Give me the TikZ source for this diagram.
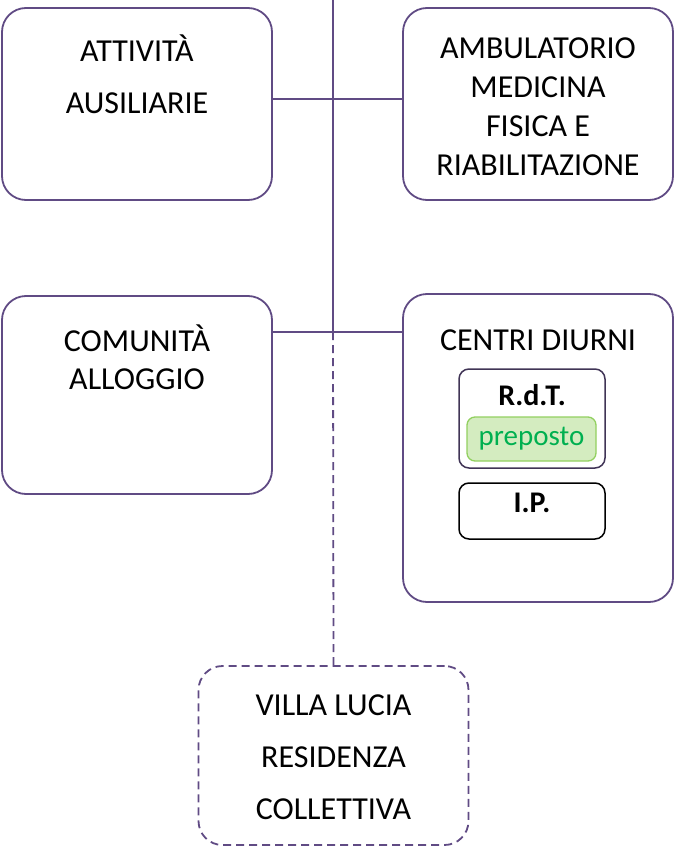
\documentclass[tikz,border=0pt]{standalone}
\usepackage{fontspec}
\setmainfont{Carlito}
\usepackage{tikz}
\usetikzlibrary{calc}
\usetikzlibrary{positioning}

\definecolor{lineviolet}{RGB}{96,75,132}
\definecolor{innerframe}{RGB}{64,52,86}
\definecolor{prepfill}{RGB}{212,236,192}
\definecolor{prepdraw}{RGB}{146,208,96}
\definecolor{preptext}{RGB}{0,176,80}

\tikzset{
  unitbox/.style={draw=lineviolet,line width=1.8pt,rounded corners=24pt,minimum width=270pt,inner sep=0pt},
  bigtext/.style={font=\fontsize{32}{#1}\selectfont,align=center,inner sep=0pt},
  smallbox/.style={draw=#1,line width=1.5pt,rounded corners=10pt,minimum width=146pt,inner sep=0pt},
  conn/.style={draw=lineviolet,line width=1.8pt}
}

\begin{document}
\begin{tikzpicture}[x=1pt,y=-1pt]
    \useasboundingbox (0,0) rectangle (678,850);
    % top row
    \node[unitbox,minimum height=192pt] (attiv) at (137,104) {};
    \node[bigtext=52] (attivT) at (137,74) {ATTIVITÀ\\AUSILIARIE};
    \node[unitbox,minimum height=192pt] (ambul) at (538,104) {};
    \node[bigtext=39] (ambulT) at (538,106.5) {AMBULATORIO\\MEDICINA\\FISICA E\\RIABILITAZIONE};
    % second row
    \node[unitbox,minimum height=198pt] (comun) at (137,395) {};
    \node[bigtext=38] (comunT) at (137,357) {COMUNITÀ\\ALLOGGIO};
    \node[unitbox,minimum height=308pt] (centri) at (538,448) {};
    \node[bigtext=38] (centriT) at (538,340) {CENTRI DIURNI};
    \node[smallbox=innerframe,minimum height=99pt] (rdt) at (532,418.5) {};
    \node[font=\fontsize{30}{34}\selectfont\bfseries,inner sep=0pt] (rdtT) at (532,395) {R.d.T.};
    \node[draw=prepdraw,fill=prepfill,line width=1.3pt,rounded corners=8pt,minimum width=129pt,minimum height=44pt,
          font=\fontsize{29}{33}\selectfont,text=preptext,inner sep=0pt] (prep) at (531.5,439) {preposto};
    \node[smallbox=black,minimum height=56pt] (ip) at (532,511) {};
    \node[font=\fontsize{30}{34}\selectfont\bfseries,inner sep=0pt] (ipT) at (532,503) {I.P.};
    % bottom
    \node[unitbox,minimum height=179pt,dash pattern=on 8pt off 5pt] (villa) at (333.5,755.5) {};
    \node[bigtext=52] (villaT) at (333.5,757) {VILLA LUCIA\\RESIDENZA\\COLLETTIVA};
    % connectors
    \coordinate (top) at (333,0);
    \coordinate (j1) at (333,99);
    \coordinate (j2) at (333,332);
    \draw[conn] (top) -- (j2);
    \draw[conn] (attiv.east |- j1) -- (ambul.west |- j1);
    \draw[conn] (comun.east |- j2) -- (centri.west |- j2);
    \draw[conn,dash pattern=on 8pt off 5pt] (j2) -- (villa.north);
\end{tikzpicture}
\end{document}
